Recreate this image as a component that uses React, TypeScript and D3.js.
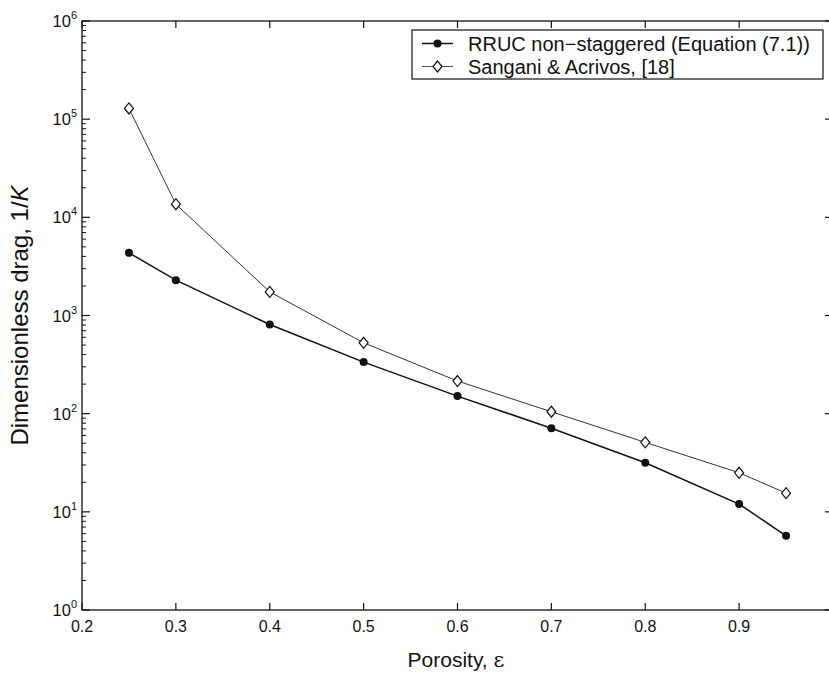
import React from "react";
import * as d3 from "d3";

const porosity = [0.25, 0.3, 0.4, 0.5, 0.6, 0.7, 0.8, 0.9, 0.95];
const rrucValues = [4350, 2290, 810, 335, 151, 71, 31.6, 12.0, 5.7];
const sanganiValues = [128500, 13600, 1740, 527, 215, 104.6, 51, 25, 15.5];
const xTicks = [0.2, 0.3, 0.4, 0.5, 0.6, 0.7, 0.8, 0.9, 1.0];
const xTickLabels = ["0.2", "0.3", "0.4", "0.5", "0.6", "0.7", "0.8", "0.9", ""];
const yDecades = [0, 1, 2, 3, 4, 5, 6];
const seriesNames = ["RRUC non\u2212staggered (Equation (7.1))", "Sangani & Acrivos, [18]"];

const W = 829;
const H = 677;
const left = 82;
const right = 833;
const top = 21;
const bottom = 610;
const font = "'Liberation Sans', Arial, Helvetica, sans-serif";

export default function App() {
  const x = d3.scaleLinear().domain([0.2, 1.0]).range([left, right]);
  const y = d3.scaleLog().domain([1, 1e6]).range([bottom, top]);

  const minor: number[] = [];
  for (let d = 0; d < 6; d++) {
    for (let m = 2; m <= 9; m++) minor.push(m * Math.pow(10, d));
  }

  const line = d3
    .line<number>()
    .x((_, i) => x(porosity[i]))
    .y((v) => y(v));

  const diamond = (cx: number, cy: number) =>
    `M${cx},${cy - 5.5} L${cx + 4.5},${cy} L${cx},${cy + 5.5} L${cx - 4.5},${cy} Z`;

  const legX = 412;
  const legY = 30;
  const legW = 411;
  const legH = 49;
  const rowY = [43.5, 66.5];

  return (
    <svg
      width={W}
      height={H}
      style={{ position: "absolute", left: 0, top: 0, background: "#fff" }}
      fontFamily={font}
    >
      <rect x={0} y={0} width={W} height={H} fill="#fff" />
      <rect x={left} y={top} width={right - left} height={bottom - top} fill="none" stroke="#111" strokeWidth={1.3} />

      {xTicks.map((t, i) => (
        <g key={"xt" + i}>
          <line x1={x(t)} x2={x(t)} y1={bottom} y2={bottom - 7} stroke="#111" strokeWidth={1.2} />
          <line x1={x(t)} x2={x(t)} y1={top} y2={top + 7} stroke="#111" strokeWidth={1.2} />
          {xTickLabels[i] && (
            <text x={x(t)} y={632} textAnchor="middle" fontSize={16} fill="#111">
              {xTickLabels[i]}
            </text>
          )}
        </g>
      ))}

      {yDecades.map((d) => {
        const yy = y(Math.pow(10, d));
        return (
          <g key={"yt" + d}>
            <line x1={left} x2={left + 8} y1={yy} y2={yy} stroke="#111" strokeWidth={1.2} />
            <line x1={right} x2={right - 8} y1={yy} y2={yy} stroke="#111" strokeWidth={1.2} />
            <text x={77} y={yy + 6} textAnchor="end" fontSize={16.5} fill="#111">
              <tspan>10</tspan>
              <tspan dy={-8} fontSize={11}>{d}</tspan>
            </text>
          </g>
        );
      })}
      {minor.map((v, i) => (
        <g key={"ym" + i}>
          <line x1={left} x2={left + 4} y1={y(v)} y2={y(v)} stroke="#111" strokeWidth={1} />
          <line x1={right} x2={right - 4} y1={y(v)} y2={y(v)} stroke="#111" strokeWidth={1} />
        </g>
      ))}

      <path d={line(sanganiValues) || ""} fill="none" stroke="#333" strokeWidth={1} />
      {sanganiValues.map((v, i) => (
        <path key={"sd" + i} d={diamond(x(porosity[i]), y(v))} fill="#fff" stroke="#111" strokeWidth={1.2} />
      ))}

      <path d={line(rrucValues) || ""} fill="none" stroke="#111" strokeWidth={1.5} />
      {rrucValues.map((v, i) => (
        <circle key={"rc" + i} cx={x(porosity[i])} cy={y(v)} r={4} fill="#111" />
      ))}

      <rect x={legX} y={legY} width={legW} height={legH} fill="#fff" stroke="#111" strokeWidth={1.2} />
      <line x1={422} x2={453} y1={rowY[0]} y2={rowY[0]} stroke="#111" strokeWidth={1.5} />
      <circle cx={437.5} cy={rowY[0]} r={4} fill="#111" />
      <text x={468} y={rowY[0] + 7} fontSize={20} fill="#111">
        {seriesNames[0]}
      </text>
      <line x1={422} x2={453} y1={rowY[1]} y2={rowY[1]} stroke="#555" strokeWidth={1} />
      <path d={diamond(437.5, rowY[1])} fill="#fff" stroke="#111" strokeWidth={1.2} />
      <text x={468} y={rowY[1] + 7} fontSize={20} fill="#111">
        {seriesNames[1]}
      </text>

      <text x={456} y={667} textAnchor="middle" fontSize={21} fill="#111">
        Porosity, <tspan fontFamily="'DejaVu Serif', serif">ε</tspan>
      </text>
      <text
        transform={`translate(28, ${(top + bottom) / 2}) rotate(-90)`}
        textAnchor="middle"
        fontSize={24}
        fill="#111"
      >
        Dimensionless drag, 1/<tspan fontStyle="italic">K</tspan>
      </text>
    </svg>
  );
}
